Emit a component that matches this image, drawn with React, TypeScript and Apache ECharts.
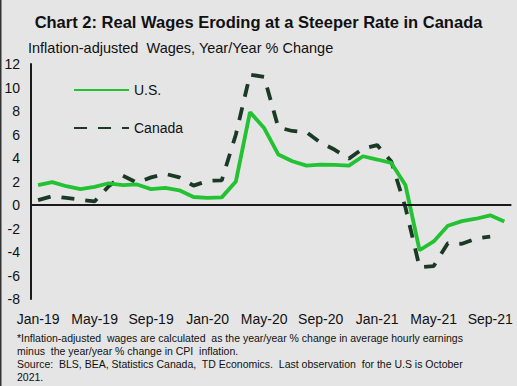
import React, { useEffect, useRef } from "react";
import * as echarts from "echarts";

const categories = [
  "Jan-19","Feb-19","Mar-19","Apr-19","May-19","Jun-19","Jul-19","Aug-19","Sep-19","Oct-19","Nov-19","Dec-19",
  "Jan-20","Feb-20","Mar-20","Apr-20","May-20","Jun-20","Jul-20","Aug-20","Sep-20","Oct-20","Nov-20","Dec-20",
  "Jan-21","Feb-21","Mar-21","Apr-21","May-21","Jun-21","Jul-21","Aug-21","Sep-21","Oct-21",
];

const usValues = [
  1.7, 1.95, 1.6, 1.35, 1.55, 1.85, 1.7, 1.75, 1.35, 1.45, 1.25, 0.68,
  0.6, 0.65, 2.0, 7.9, 6.55, 4.3, 3.72, 3.35, 3.44, 3.41, 3.35, 4.15,
  3.87, 3.58, 1.7, -3.85, -3.1, -1.77, -1.37, -1.17, -0.88, -1.4,
];

const canadaValues = [
  0.41, 0.75, 0.6, 0.45, 0.3, 1.6, 2.5, 1.9, 2.35, 2.65, 2.35, 1.65,
  2.05, 2.1, 6.0, 11.1, 10.9, 6.6, 6.3, 6.2, 5.3, 4.7, 3.95, 4.8,
  5.1, 3.7, -0.2, -5.3, -5.2, -3.25, -3.3, -2.85, -2.7, null,
];

const footnoteLines = [
  "*Inflation-adjusted  wages are calculated  as the year/year % change in average hourly earnings",
  "minus  the year/year % change in CPI  inflation.",
  "Source:  BLS, BEA, Statistics Canada,  TD Economics.  Last observation  for the U.S is October",
  "2021.",
];

const FONT = "'Liberation Sans', Arial, sans-serif";

export default function App() {
  const ref = useRef<HTMLDivElement>(null);
  useEffect(() => {
    if (!ref.current) return;
    const chart = echarts.init(ref.current, undefined, { renderer: "svg" });
    chart.setOption({
      animation: false,
      backgroundColor: "#e5e5e5",
      textStyle: { fontFamily: FONT },
      title: {
        text: "Chart 2: Real Wages Eroding at a Steeper Rate in Canada",
        left: "center",
        top: 8,
        textStyle: { fontFamily: FONT, fontSize: 16.5, fontWeight: "bold", color: "#111" },
      },
      graphic: [
        { type: "rect", left: 0, top: 0, shape: { width: 1.5, height: 386 }, style: { fill: "#333" } },
        {
          type: "text",
          left: 28,
          top: 40,
          style: { text: "Inflation-adjusted  Wages, Year/Year % Change", font: `14.5px ${FONT}`, fill: "#111" },
        },
        ...footnoteLines.map((t, i) => ({
          type: "text",
          left: 17,
          top: 332 + i * 13.1,
          style: { text: t, font: `10.5px ${FONT}`, fill: "#111" },
        })),
      ],
      legend: {
        orient: "vertical",
        left: 68,
        top: 78,
        itemWidth: 55,
        itemHeight: 14,
        itemGap: 24,
        itemStyle: { opacity: 0 },
        textStyle: { fontFamily: FONT, fontSize: 14, color: "#111" },
        data: ["U.S.", "Canada"],
      },
      grid: { left: 31, right: 5.6, top: 64, bottom: 87, containLabel: false },
      xAxis: {
        type: "category",
        data: categories,
        boundaryGap: true,
        axisLine: { show: false, onZero: false },
        axisTick: { show: false },
        axisLabel: { interval: 3, fontFamily: FONT, fontSize: 14, color: "#111", margin: 13 },
      },
      yAxis: {
        type: "value",
        min: -8,
        max: 12,
        interval: 2,
        splitLine: { show: false },
        axisTick: { show: false },
        axisLine: { show: true, lineStyle: { color: "#1a1a1a", width: 2 } },
        axisLabel: { fontFamily: FONT, fontSize: 14, color: "#111", margin: 11 },
      },
      series: [
        {
          name: "Canada",
          type: "line",
          data: canadaValues,
          symbol: "none",
          lineStyle: { color: "#1b3a26", width: 3.8, type: [13, 11], cap: "butt" },
          itemStyle: { color: "#1b3a26" },
          z: 3,
        },
        {
          name: "U.S.",
          type: "line",
          data: usValues,
          symbol: "none",
          lineStyle: { color: "#22c232", width: 3.8 },
          itemStyle: { color: "#22c232" },
          z: 4,
          markLine: {
            silent: true,
            symbol: "none",
            label: { show: false },
            lineStyle: { color: "#1a1a1a", width: 2, type: "solid" },
            data: [{ yAxis: 0 }],
          },
        },
      ],
    });
    return () => chart.dispose();
  }, []);
  return (
    <div
      ref={ref}
      style={{ position: "fixed", left: 0, top: 0, width: 517, height: 386 }}
    />
  );
}
